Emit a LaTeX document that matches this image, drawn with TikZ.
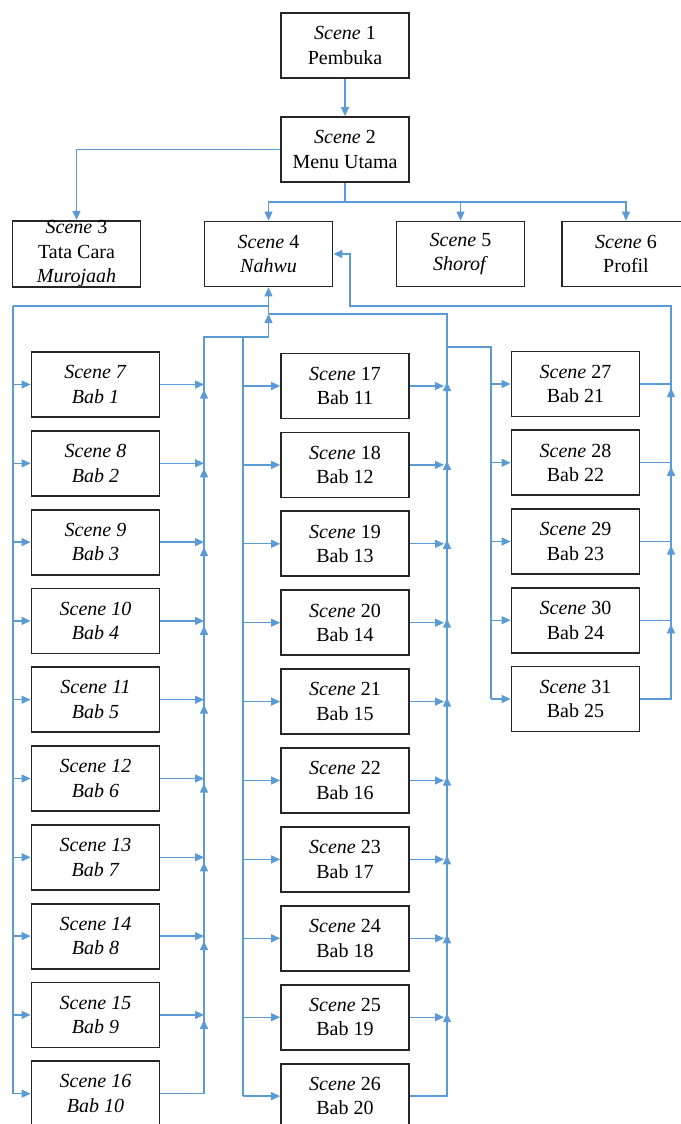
\documentclass[tikz,border=0pt]{standalone}
\usepackage{fontspec}
\setmainfont{Liberation Serif}
\usetikzlibrary{arrows.meta}
\definecolor{linkblue}{HTML}{5B9BD5}
\tikzset{
  scenebox/.style={draw=black!85, line width=1.8pt, fill=white,
    minimum width=128pt, minimum height=65pt, inner sep=0pt,
    align=center, font=\fontsize{20}{24.5}\selectfont},
  link/.style={draw=linkblue, line width=1.3pt},
  linkarrow/.style={link, -{Triangle[length=9pt,width=8pt]}}
}

\begin{document}
\begin{tikzpicture}[x=1pt, y=-1pt]
  \useasboundingbox (0,0) rectangle (680,1124);

  % menu level
  \node[scenebox] (s1) at (345,45.5) {\textit{Scene} 1\\Pembuka};
  \node[scenebox] (s2) at (345,149.5) {\textit{Scene} 2\\Menu Utama};
  \node[scenebox] (s3) at (76.5,254) {\textit{Scene} 3\\Tata Cara\\\textit{Murojaah}};
  \node[scenebox] (s4) at (268.5,254) {\textit{Scene} 4\\\textit{Nahwu}};
  \node[scenebox] (s5) at (460.5,254) {\textit{Scene} 5\\\textit{Shorof}};
  \node[scenebox] (s6) at (626,254) {\textit{Scene} 6\\Profil};

  % bab columns
  \foreach \n [evaluate=\n as \b using int(\n-6), count=\i from 0] in {7,...,16}
    \node[scenebox] (s\n) at (95.5,384.5+78.8*\i) {\textit{Scene \n}\\\textit{Bab \b}};
  \foreach \n [evaluate=\n as \b using int(\n-6), count=\i from 0] in {17,...,26}
    \node[scenebox] (s\n) at (345,386+78.9*\i) {\textit{Scene} \n\\Bab \b};
  \foreach \n [evaluate=\n as \b using int(\n-6), count=\i from 0] in {27,...,31}
    \node[scenebox] (s\n) at (575.5,384+78.75*\i) {\textit{Scene} \n\\Bab \b};

  \coordinate (menubus) at (345,202);
  \coordinate (leftin) at (13,306);
  \coordinate (leftout) at (204,337);
  \coordinate (midin) at (243,337);
  \coordinate (midout) at (447,314);
  \coordinate (rightin) at (491,347);
  \coordinate (rightout) at (671,306);
  \coordinate (nahwuin) at (350,306);

  % from the menu
  \draw[linkarrow] (s1) -- (s2);
  \draw[linkarrow] (s2.west) -| (s3.north);
  \draw[link] (s2.south) -- (menubus);
  \foreach \s in {4,5,6}
    \draw[linkarrow] (menubus) -| (s\s.north);

  % back to Nahwu
  \draw[link] (leftin) -- (leftin -| s4.south);
  \draw[link] (s16.east) -| (leftout) -- (leftout -| s4.south);
  \draw[link] (s26.east) -| (midout) -- (midout -| s4.south);
  \draw[linkarrow] (leftout -| s4.south) -- (midout -| s4.south);
  \draw[linkarrow] (midout -| s4.south) -- (s4.south);
  \draw[linkarrow] (s31.east) -| (rightout) -- (nahwuin) |- (s4.east);

  % left column
  \draw[link] (leftin) -- (leftin |- s16);
  \foreach \n in {7,...,16}
    \draw[linkarrow] (leftin |- s\n) -- (s\n.west);
  \foreach \n in {7,...,15}{
    \draw[linkarrow] (s\n.east) -- (s\n.east -| leftout) coordinate (j\n);
    \draw[linkarrow] ([yshift=-14pt]j\n) -- ([yshift=-5pt]j\n);
  }

  % middle column
  \draw[link] (midin) -- (midin |- s26);
  \foreach \n in {17,...,26}
    \draw[linkarrow] (midin |- s\n) -- (s\n.west);
  \foreach \n in {17,...,25}{
    \draw[linkarrow] (s\n.east) -- ([xshift=-3pt]s\n.east -| midout) coordinate (j\n);
    \draw[linkarrow] ([xshift=3pt,yshift=-6pt]j\n) -- ([xshift=3pt,yshift=4pt]j\n);
  }

  % right column
  \draw[link] (midout |- rightin) -- (rightin) -- (rightin |- s31);
  \foreach \n in {27,...,31}
    \draw[linkarrow] (rightin |- s\n) -- (s\n.west);
  \foreach \n in {27,...,30}{
    \draw[link] (s\n.east) -- (s\n.east -| rightout) coordinate (j\n);
    \draw[linkarrow] ([yshift=-13pt]j\n) -- ([yshift=-4pt]j\n);
  }
\end{tikzpicture}
\end{document}
